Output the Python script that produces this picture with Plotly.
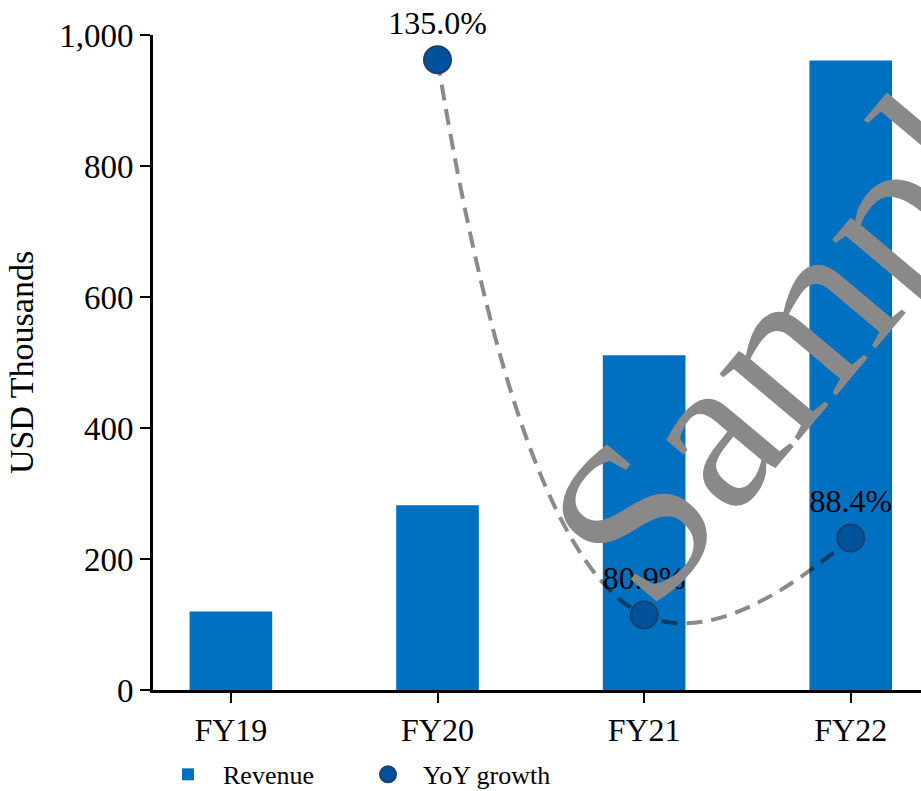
import plotly.graph_objects as go

categories = ["FY19", "FY20", "FY21", "FY22"]
revenue = [120, 282, 511, 961]
growth_categories = ["FY20", "FY21", "FY22"]
growth = [135.0, 80.9, 88.4]
growth_labels = ["135.0%", "80.9%", "88.4%"]
y_ticks = [0, 200, 400, 600, 800, 1000]

FONT = "Liberation Serif"
BAR_COLOR = "#0070C0"
MARKER_COLOR = "#00529B"
MARKER_EDGE = "#1D3F6E"

fig = go.Figure()
fig.add_trace(go.Bar(
    x=categories, y=revenue, name="Revenue",
    marker=dict(color=BAR_COLOR, line=dict(width=0)),
    width=0.4, yaxis="y",
))
fig.add_trace(go.Scatter(
    x=growth_categories, y=growth, name="YoY growth",
    mode="lines+markers+text", showlegend=False,
    text=growth_labels, textposition="top center",
    textfont=dict(family=FONT, size=32, color="black"),
    line=dict(color="rgba(0,0,0,0.46)", width=4, dash="16px,9px", shape="spline", smoothing=1.3),
    marker=dict(size=27, color=MARKER_COLOR, line=dict(color=MARKER_EDGE, width=2)),
    yaxis="y2", cliponaxis=False,
))
# legend entry for the growth series (marker only, as in the reference)
fig.add_trace(go.Scatter(
    x=[None], y=[None], name="YoY growth", mode="markers",
    marker=dict(size=27, color=MARKER_COLOR, line=dict(color=MARKER_EDGE, width=2)),
    yaxis="y2", showlegend=True,
))

fig.add_annotation(
    text="Sample", xref="paper", yref="paper", x=0.855, y=0.582,
    xanchor="center", yanchor="middle",
    showarrow=False, textangle=-50,
    font=dict(family=FONT, size=225, color="rgb(137,137,137)"),
)

fig.update_layout(
    width=921, height=791,
    margin=dict(l=153, r=0, t=35, b=101, autoexpand=False),
    paper_bgcolor="white", plot_bgcolor="white",
    font=dict(family=FONT, color="black", size=32),
    showlegend=True,
    legend=dict(orientation="h", x=0.0, xanchor="left", y=-0.093, yanchor="top",
                font=dict(family=FONT, size=26), itemwidth=60,
                entrywidth=125, entrywidthmode="pixels", tracegroupgap=0),
    xaxis=dict(
        type="category", range=[-0.377, 3.34],
        showline=True, linecolor="black", linewidth=3,
        ticks="outside", ticklen=10, tickwidth=2, tickcolor="black",
        tickfont=dict(family=FONT, size=32), showgrid=False, zeroline=False,
    ),
    yaxis=dict(
        range=[0, 1000], tickvals=y_ticks, tickformat=",",
        showline=True, linecolor="black", linewidth=3,
        ticks="outside", ticklen=10, tickwidth=2, tickcolor="black",
        tickfont=dict(family=FONT, size=33), showgrid=False, zeroline=False,
        title=dict(text="USD Thousands", font=dict(family=FONT, size=34), standoff=16),
    ),
    yaxis2=dict(range=[73.6, 137.4], overlaying="y", visible=False),
)

fig.write_html("out.html")
